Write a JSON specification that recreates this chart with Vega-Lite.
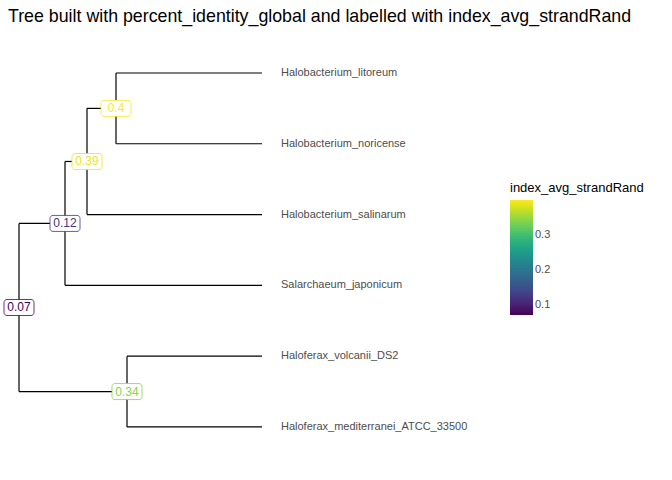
{
"$schema":"https://vega.github.io/schema/vega-lite/v6.json",
"width":672,"height":450,"autosize":"none",
"padding":{"left":0,"top":30,"right":0,"bottom":0},
"title":{"text":"Tree built with percent_identity_global and labelled with index_avg_strandRand","anchor":"start","frame":"group","fontSize":17.8,"fontWeight":"normal","font":"Liberation Sans","dx":8,"offset":4,"color":"#000"},
"config":{"view":{"stroke":null},"font":"Liberation Sans"},
"resolve":{"legend":{"stroke":"independent","color":"independent"}},
"datasets":{
"seg":[
{"x":19,"x2":19,"y":3.125,"y2":5.5},
{"x":19,"x2":65,"y":3.125,"y2":3.125},
{"x":19,"x2":127,"y":5.5,"y2":5.5},
{"x":65,"x2":65,"y":2.25,"y2":4},
{"x":65,"x2":87,"y":2.25,"y2":2.25},
{"x":65,"x2":262,"y":4,"y2":4},
{"x":87,"x2":87,"y":1.5,"y2":3},
{"x":87,"x2":116,"y":1.5,"y2":1.5},
{"x":87,"x2":262,"y":3,"y2":3},
{"x":116,"x2":116,"y":1,"y2":2},
{"x":116,"x2":262,"y":1,"y2":1},
{"x":116,"x2":262,"y":2,"y2":2},
{"x":127,"x2":127,"y":5,"y2":6},
{"x":127,"x2":262,"y":5,"y2":5},
{"x":127,"x2":262,"y":6,"y2":6}],
"nodes":[
{"x":19,"y":4.3125,"v":0.07,"t":"0.07"},
{"x":65,"y":3.125,"v":0.12,"t":"0.12"},
{"x":87,"y":2.25,"v":0.39,"t":"0.39"},
{"x":116,"y":1.5,"v":0.40,"t":"0.4"},
{"x":127,"y":5.5,"v":0.34,"t":"0.34"}],
"leaves":[
{"x":281,"y":1,"n":"Halobacterium_litoreum"},
{"x":281,"y":2,"n":"Halobacterium_noricense"},
{"x":281,"y":3,"n":"Halobacterium_salinarum"},
{"x":281,"y":4,"n":"Salarchaeum_japonicum"},
{"x":281,"y":5,"n":"Haloferax_volcanii_DS2"},
{"x":281,"y":6,"n":"Haloferax_mediterranei_ATCC_33500"}]
},
"layer":[
{"data":{"name":"seg"},"mark":{"type":"rule","color":"#000","strokeWidth":1.2},
"encoding":{"x":{"field":"x","type":"quantitative","scale":{"domain":[0,672],"nice":false,"zero":false},"axis":null},"x2":{"field":"x2"},
"y":{"field":"y","type":"quantitative","scale":{"domain":[0.393,6.749],"reverse":true,"nice":false,"zero":false},"axis":null},"y2":{"field":"y2"}}},
{"data":{"name":"leaves"},"mark":{"type":"text","align":"left","fontSize":11,"color":"#4d4d4d"},
"encoding":{"x":{"field":"x","type":"quantitative"},"y":{"field":"y","type":"quantitative"},"text":{"field":"n"}}},
{"data":{"name":"nodes"},"mark":{"type":"rect","width":30,"height":16,"fill":"white","cornerRadius":3,"strokeWidth":0.8},
"encoding":{"x":{"field":"x","type":"quantitative"},"y":{"field":"y","type":"quantitative"},"stroke":{"field":"v","type":"quantitative","scale":{"scheme":"viridis","domain":[0.07,0.4]},"legend":null}}},
{"data":{"name":"nodes"},"mark":{"type":"text","fontSize":12},
"encoding":{"x":{"field":"x","type":"quantitative"},"y":{"field":"y","type":"quantitative"},"text":{"field":"t"},
"color":{"field":"v","type":"quantitative","scale":{"scheme":"viridis","domain":[0.07,0.4]},
"legend":{"title":"index_avg_strandRand","orient":"none","legendX":510,"legendY":152,"gradientLength":115,"gradientThickness":23,"titleFontSize":13,"titleFontWeight":"normal","titleColor":"#000","labelFontSize":11,"labelColor":"#4d4d4d","values":[0.1,0.2,0.3],"gradientStrokeWidth":0}}}}
]
}
